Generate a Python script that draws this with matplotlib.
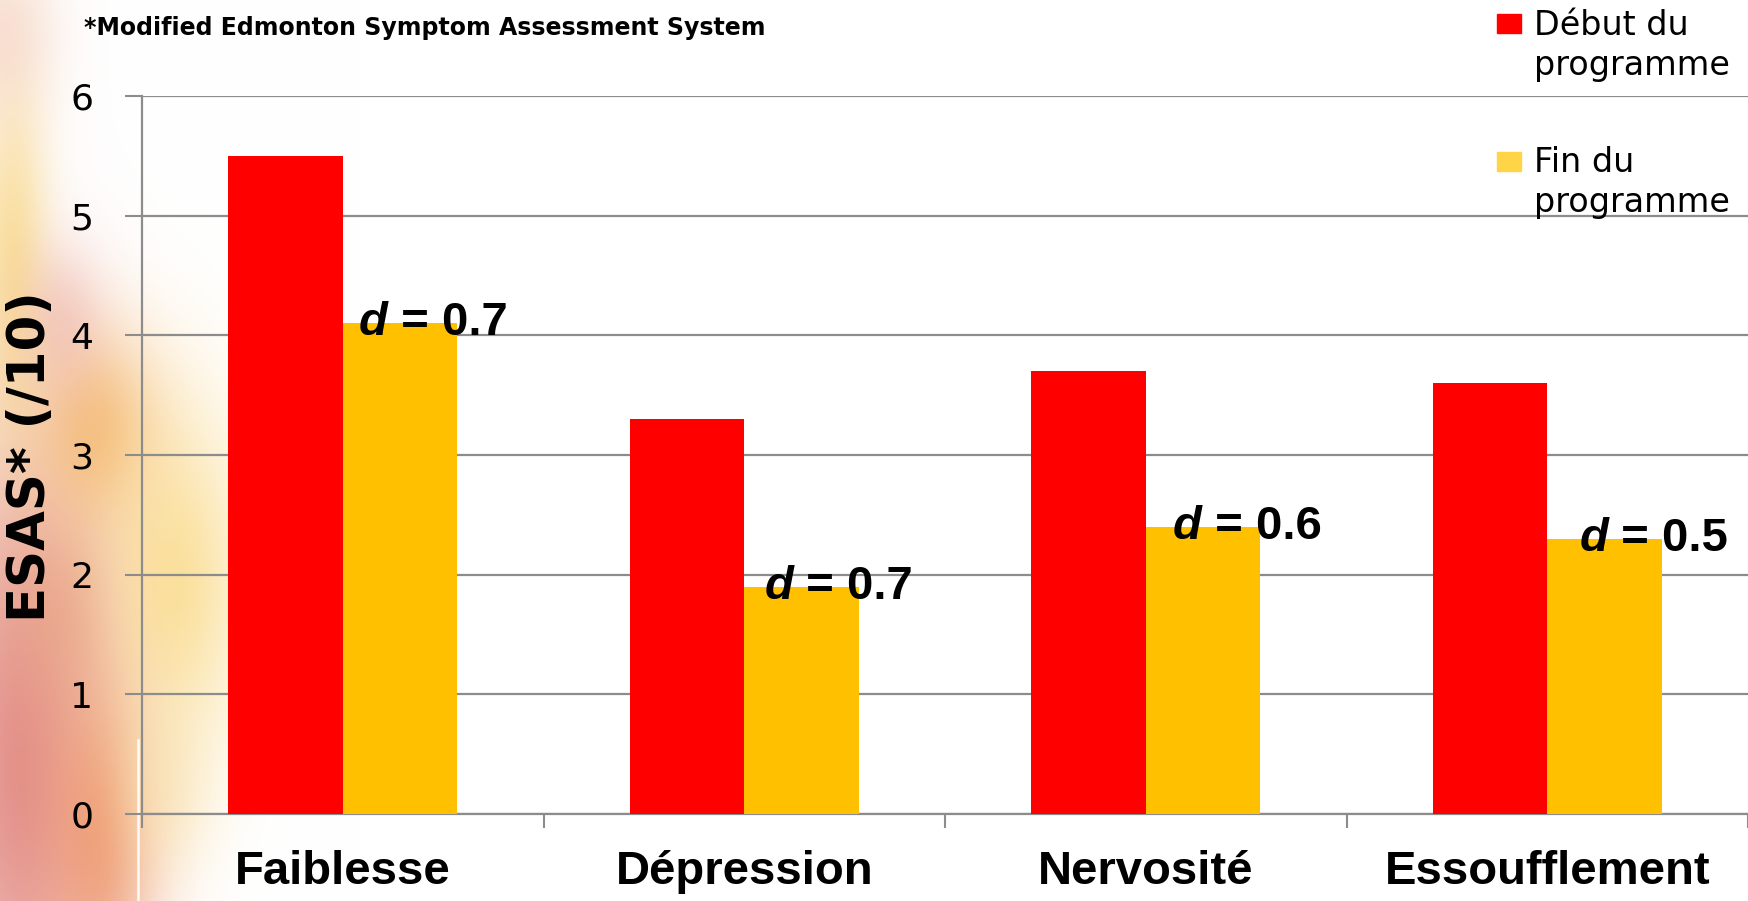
import numpy as np
import matplotlib
matplotlib.use("Agg")
import matplotlib.pyplot as plt
from matplotlib.patches import Rectangle
from matplotlib.colors import to_rgb

# ---------------- data ----------------
categories = ["Faiblesse", "Dépression", "Nervosité", "Essoufflement"]
debut = [5.5, 3.3, 3.7, 3.6]
fin = [4.1, 1.9, 2.4, 2.3]
effect_labels = ["0.7", "0.7", "0.6", "0.5"]
series_names = ["Début du\nprogramme", "Fin du\nprogramme"]
yticks = [0, 1, 2, 3, 4, 5, 6]
ylabel = "ESAS* (/10)"
note = "*Modified Edmonton Symptom Assessment System"

# ---------------- layout / style ----------------
W, H = 1748, 901
RED = "#FF0000"
YEL = "#FFC000"
YEL_LEG = "#FFD447"
GRID = "#8C8C8C"
label_dx = [0.04, 0.05, 0.067, 0.08]   # offset of d-label from yellow bar left edge

fig = plt.figure(figsize=(W / 100, H / 100), dpi=100, facecolor="white")

# decorative blurred background on left side
bg = fig.add_axes([0, 0, 1, 1], zorder=-10)
yy, xx = np.mgrid[0:H, 0:360]
img = np.ones((H, 360, 3))
blobs = [
    (20, 760, 65, 230, "#E28C86", 0.95),
    (100, 830, 38, 110, "#EE9266", 0.8),
    (60, 610, 40, 70, "#E8A080", 0.6),
    (95, 430, 45, 70, "#F4B46A", 0.8),
    (175, 580, 50, 120, "#FAD880", 0.75),
    (12, 260, 25, 130, "#F8D47A", 0.7),
    (60, 320, 30, 50, "#EDB0A8", 0.5),
    (0, 30, 40, 60, "#F2C6B8", 0.5),
    (160, 790, 35, 60, "#F9E3A8", 0.5),
]
for cx, cy, sx, sy, col, a in blobs:
    w = a * np.exp(-0.5 * (((xx - cx) / sx) ** 2 + ((yy - cy) / sy) ** 2))
    img = img * (1 - w[..., None]) + np.array(to_rgb(col)) * w[..., None]
bg.imshow(img, extent=[0, 360, H, 0], aspect="auto", interpolation="bilinear")
bg.plot([138, 138], [740, H], color="white", linewidth=1.8, alpha=0.9)
bg.set_xlim(0, W)
bg.set_ylim(H, 0)
bg.axis("off")

# main axes
ax_left, ax_right = 142 / W, 1.0
ax_bottom, ax_top = 1 - 814 / H, 1 - 96 / H
ax = fig.add_axes([ax_left, ax_bottom, ax_right - ax_left, ax_top - ax_bottom])
ax.set_facecolor("none")

x = np.arange(len(categories))
bw = 0.285
ax.bar(x - bw / 2, debut, bw, color=RED, zorder=3, linewidth=0)
ax.bar(x + bw / 2, fin, bw, color=YEL, zorder=3, linewidth=0)

ax.set_xlim(-0.5, len(categories) - 0.5)
ax.set_ylim(0, 6)
ax.set_yticks(yticks)
ax.set_yticklabels([str(t) for t in yticks], family="DejaVu Sans", fontsize=26)
ax.yaxis.grid(True, color=GRID, linewidth=1.6, zorder=0)
ax.set_axisbelow(True)

ax.set_xticks(x)
ax.set_xticklabels(categories, fontsize=34, fontweight="bold", family="Liberation Sans")
ax.set_xticks(np.arange(-0.5, len(categories), 1.0), minor=True)
ax.tick_params(axis="x", which="major", length=0, pad=26)
ax.tick_params(axis="x", which="minor", length=10, width=1.5, color=GRID, direction="out")
ax.tick_params(axis="y", which="major", length=12, width=1.5, color=GRID, direction="out", pad=23)

for s in ["top", "right"]:
    ax.spines[s].set_visible(False)
for s in ["left", "bottom"]:
    ax.spines[s].set_color(GRID)
    ax.spines[s].set_linewidth(1.6)

# d labels: italic bold "d" followed by bold "= value"
for i, (v, lab) in enumerate(zip(fin, effect_labels)):
    t1 = ax.text(x[i] + label_dx[i], v, "d", fontsize=34, fontweight="bold",
                 fontstyle="italic", family="Liberation Sans", ha="left", va="center", zorder=5)
    ax.annotate(" = " + lab, xy=(1, 0.5), xycoords=t1, fontsize=34, fontweight="bold",
                family="Liberation Sans", ha="left", va="center", zorder=5)

# y label
fig.text(31 / W, 1 - 457 / H, ylabel, rotation=90, ha="center", va="center",
         fontsize=37, fontweight="bold", family="DejaVu Sans")

# note
fig.text(84 / W, 1 - 35 / H, note, ha="left", va="baseline", fontsize=17,
         fontweight="bold", family="DejaVu Sans")

# legend (manual); text baseline given for last line
leg_cols = [RED, YEL_LEG]
leg_last_base = [75, 212]
sq_top = [14, 152]
for col, name, yb, st in zip(leg_cols, series_names, leg_last_base, sq_top):
    fig.patches.append(Rectangle((1497 / W, 1 - (st + 19) / H), 24 / W, 19 / H,
                                 transform=fig.transFigure, color=col, zorder=5))
    fig.text(1534 / W, 1 - yb / H, name, ha="left", va="baseline", fontsize=24,
             family="DejaVu Sans", linespacing=1.27)

fig.savefig("out.png", dpi=100, facecolor="white")
